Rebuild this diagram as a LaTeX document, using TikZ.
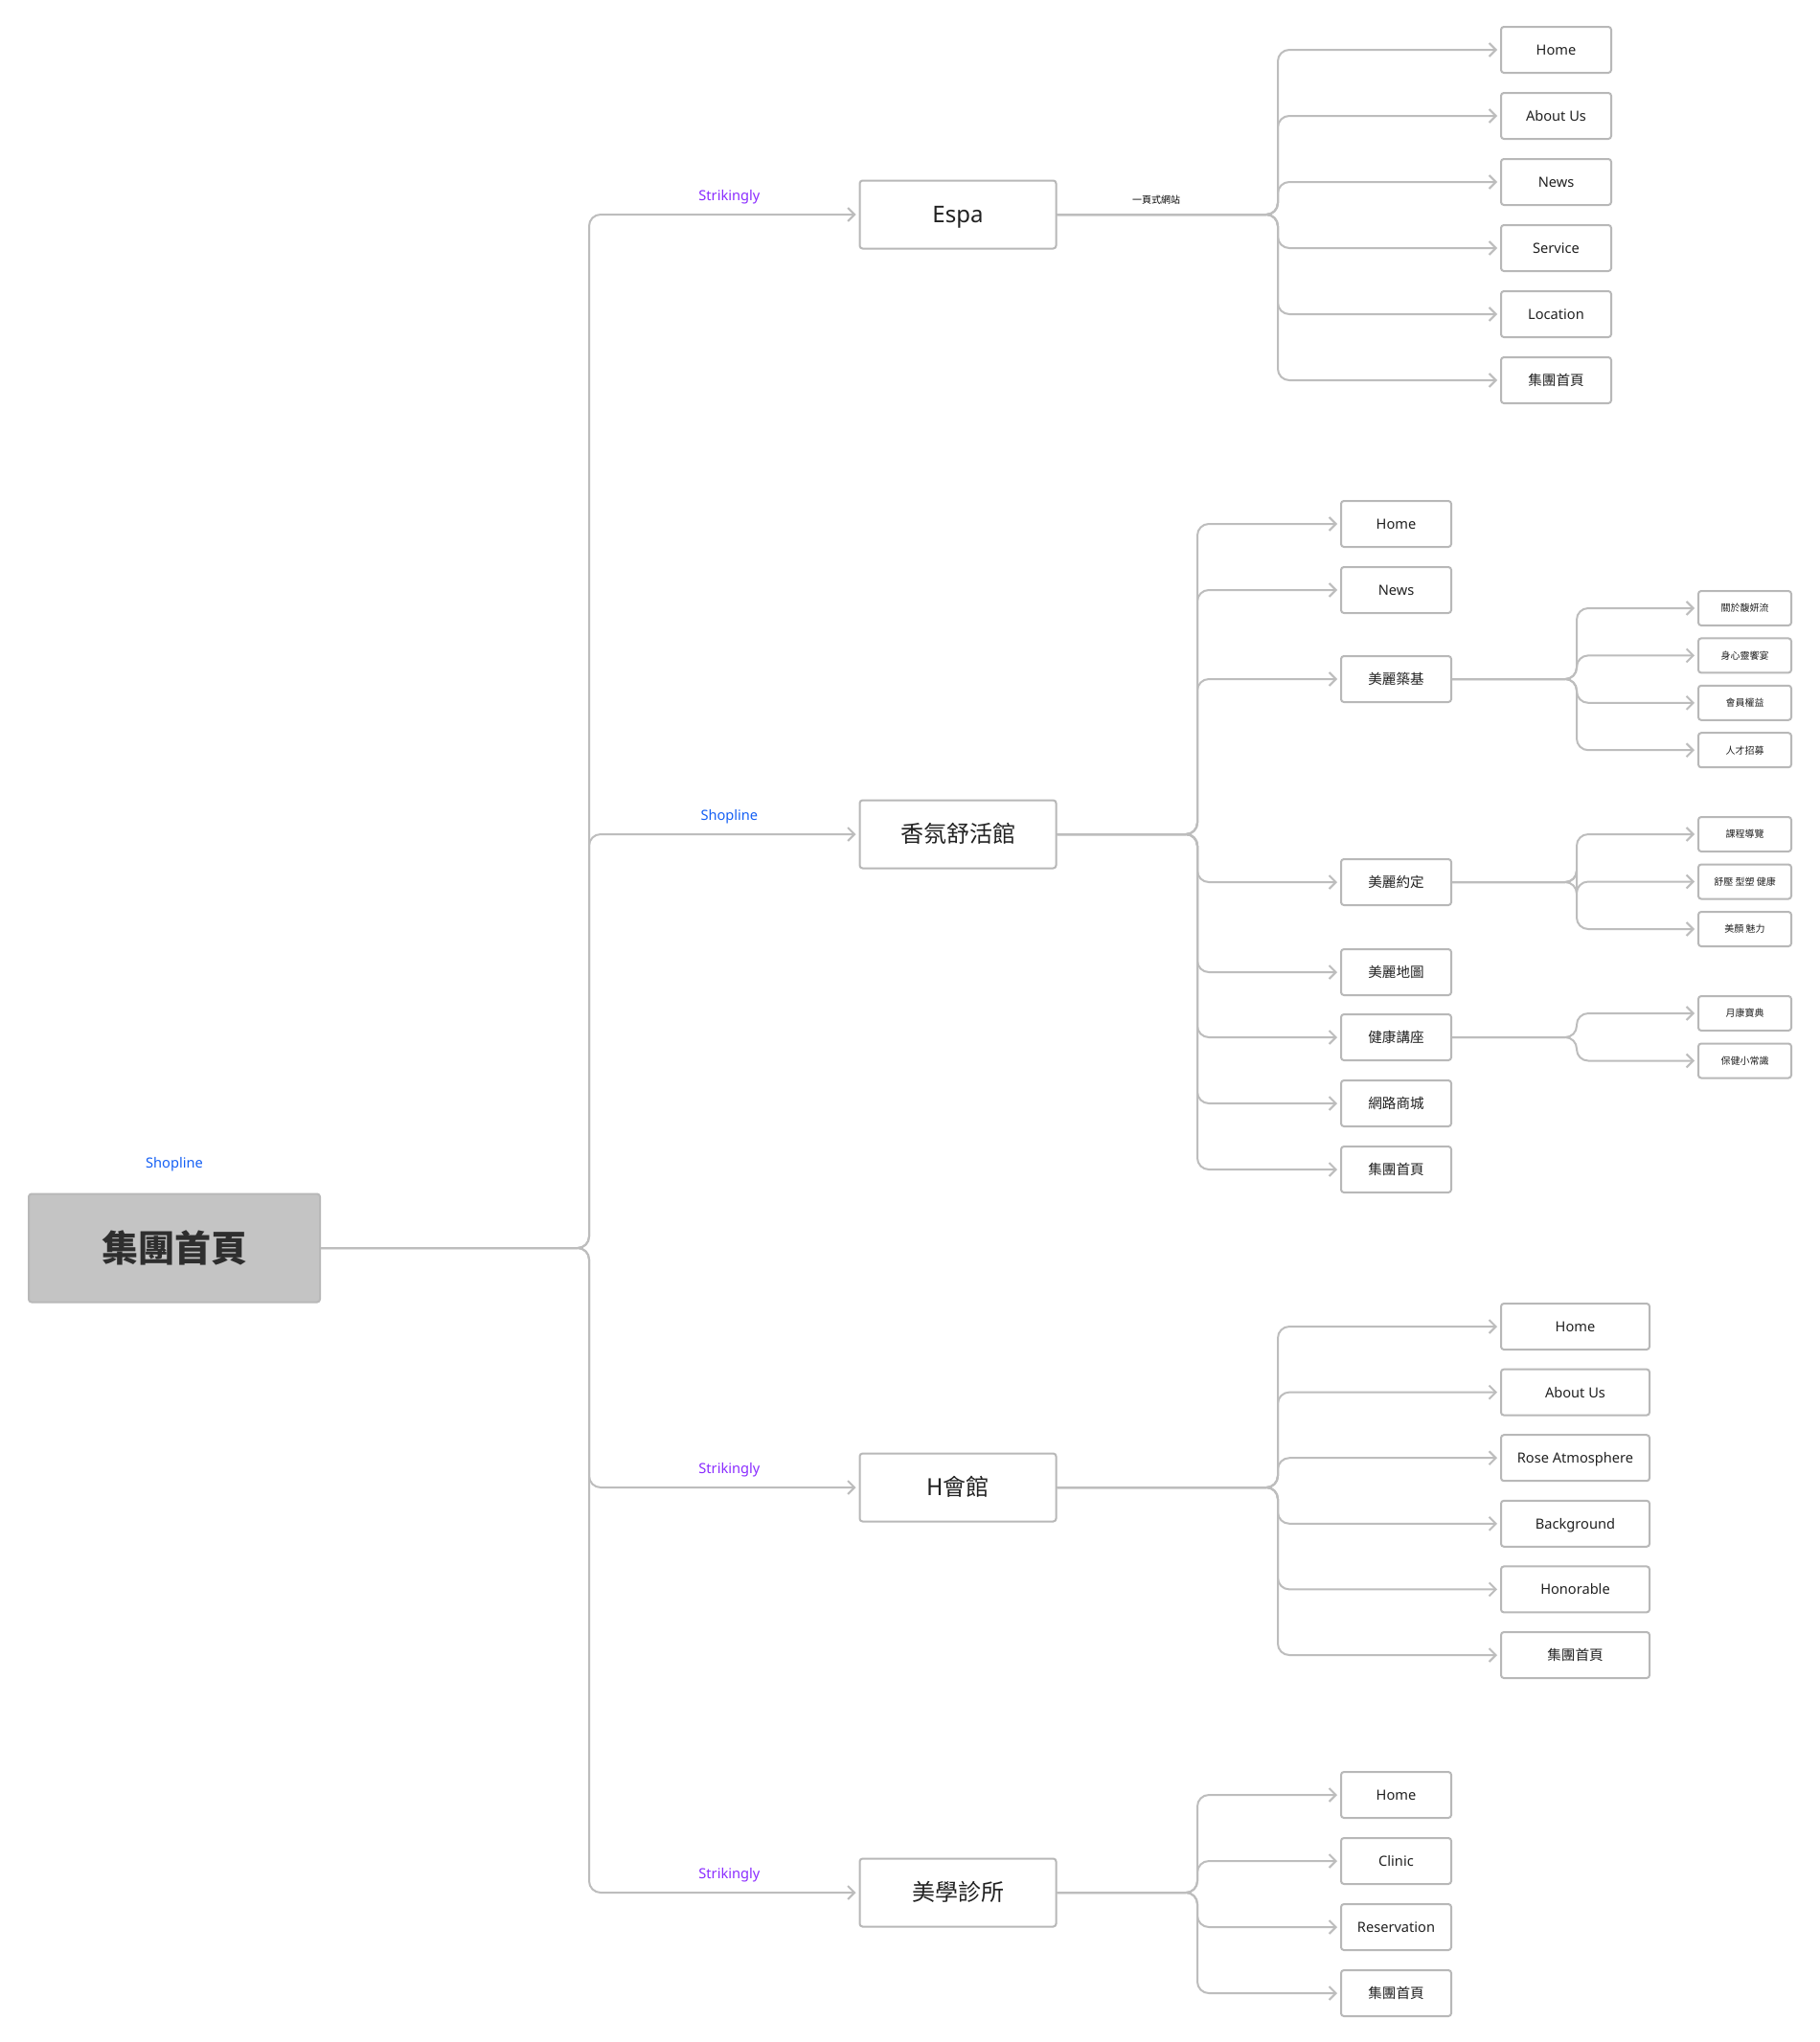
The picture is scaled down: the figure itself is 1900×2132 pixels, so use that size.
\documentclass[tikz,border=0pt]{standalone}
\usepackage{fontspec}
\setmainfont{Noto Sans}
\newfontfamily\cjk{Noto Sans CJK TC}
\usetikzlibrary{arrows.meta}
\definecolor{wire}{HTML}{BDBDBD}
\definecolor{frame}{HTML}{B8B8B8}
\definecolor{rootfill}{HTML}{C4C4C4}
\definecolor{inkgray}{HTML}{2E2E2E}
\definecolor{striking}{HTML}{8A2BFF}
\definecolor{shopline}{HTML}{1560F5}

\begin{document}
\begin{tikzpicture}[
    x=0.5pt, y=-0.5pt,      % one unit = one pixel of the sketch
    >={Straight Barb[length=3.5pt,width=7pt]},
    box/.style={draw=frame, line width=1pt, rounded corners=1.5pt, fill=white,
        inner sep=0pt, text=black!87, text depth=0pt},
    rootbox/.style={box, fill=rootfill, minimum width=152pt, minimum height=56.5pt,
        text=inkgray, text height=14pt, font=\fontsize{19}{22}\selectfont\cjk\bfseries},
    site/.style={box, minimum width=102.5pt, minimum height=35.5pt, text height=8.9pt,
        font=\fontsize{12}{14}\selectfont},
    page/.style={box, minimum width=57.5pt, minimum height=24pt, text height=5.4pt,
        font=\fontsize{7.3}{9}\selectfont},
    widepage/.style={page, minimum width=77.5pt},
    sub/.style={box, minimum width=48.5pt, minimum height=18pt, text height=3.8pt,
        font=\fontsize{5}{6}\selectfont\cjk},
    tag/.style={inner sep=0pt, font=\fontsize{7.3}{9}\selectfont},
    note/.style={inner sep=0pt, font=\fontsize{5}{6}\selectfont\cjk},
    edge/.style={draw=wire, line width=1pt, rounded corners=6pt, ->, shorten >=1.5pt}]
    \path[fill=white, use as bounding box] (0,0) rectangle (1900,2132);

    % Root
    \node[rootbox] (root) at (182,1303) {集團首頁};
    \node[tag, text=shopline] (roottag) at (182,1216) {Shopline};

    % Sites
    \node[site] (espa) at (1000,224) {Espa};
    \node[site] (xiang) at (1000,871) {\cjk 香氛舒活館};
    \node[site] (hall) at (1000,1553) {\cjk H會館};
    \node[site] (clinic) at (1000,1976) {\cjk 美學診所};

    % Bus points
    \coordinate (rootbus) at (615,1303);
    \coordinate (espabus) at (1334,224);
    \coordinate (xiangbus) at (1250,871);
    \coordinate (hallbus) at (1334,1553);
    \coordinate (clinicbus) at (1250,1976);
    \coordinate (basebus) at (1646,709);
    \coordinate (datebus) at (1646,921);
    \coordinate (talkbus) at (1646,1083);

    % Root to sites with platform
    \foreach \s/\host/\col in {espa/Strikingly/striking, xiang/Shopline/shopline,
        hall/Strikingly/striking, clinic/Strikingly/striking}
        \draw[edge] (root.east) -- (rootbus) |-
            node[tag, text=\col, above, yshift=5pt, pos=0.76] {\host} (\s.west);

    % Espa pages
    \path (espa.east) -- node[note, above, yshift=5pt, pos=0.45] {一頁式網站} (espabus);
    \foreach \txt [count=\i from 0] in {Home, About Us, News, Service, Location, {\cjk 集團首頁}} {
        \node[page] (espa-\i) at (1624.5,{52+69*\i}) {\txt};
        \draw[edge] (espa.east) -- (espabus) |- (espa-\i.west);
    }

    % Xiang pages
    \foreach \txt/\y [count=\i] in {Home/547, News/616, {\cjk 美麗築基}/709, {\cjk 美麗約定}/921,
        {\cjk 美麗地圖}/1015, {\cjk 健康講座}/1083, {\cjk 網路商城}/1152, {\cjk 集團首頁}/1221} {
        \node[page] (xiang-\i) at (1457.5,\y) {\txt};
        \draw[edge] (xiang.east) -- (xiangbus) |- (xiang-\i.west);
    }

    % Sub pages
    \foreach \txt [count=\i from 0] in {關於馥妍流, 身心靈饗宴, 會員權益, 人才招募} {
        \node[sub] (base-\i) at (1821.5,{635+49.4*\i}) {\txt};
        \draw[edge] (xiang-3.east) -- (basebus) |- (base-\i.west);
    }
    \foreach \txt [count=\i from 0] in {課程導覽, 舒壓 型塑 健康, 美顏 魅力} {
        \node[sub] (date-\i) at (1821.5,{871+49.5*\i}) {\txt};
        \draw[edge] (xiang-4.east) -- (datebus) |- (date-\i.west);
    }
    \foreach \txt [count=\i from 0] in {月康寶典, 保健小常識} {
        \node[sub] (talk-\i) at (1821.5,{1058+49.5*\i}) {\txt};
        \draw[edge] (xiang-6.east) -- (talkbus) |- (talk-\i.west);
    }

    % Hall pages
    \foreach \txt [count=\i from 0] in {Home, About Us, Rose Atmosphere, Background, Honorable, {\cjk 集團首頁}} {
        \node[widepage] (hall-\i) at (1644.5,{1385+68.6*\i}) {\txt};
        \draw[edge] (hall.east) -- (hallbus) |- (hall-\i.west);
    }

    % Clinic pages
    \foreach \txt [count=\i from 0] in {Home, Clinic, Reservation, {\cjk 集團首頁}} {
        \node[page] (clinic-\i) at (1457.5,{1874+69*\i}) {\txt};
        \draw[edge] (clinic.east) -- (clinicbus) |- (clinic-\i.west);
    }
\end{tikzpicture}
\end{document}
